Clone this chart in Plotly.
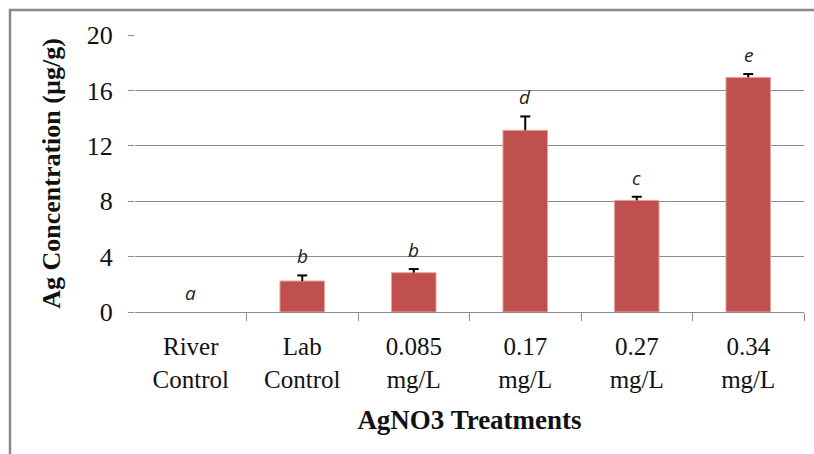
import plotly.graph_objects as go

# Treatment groups and measured silver concentration (mean and upper error)
categories = ["River<br>Control", "Lab<br>Control", "0.085<br>mg/L",
              "0.17<br>mg/L", "0.27<br>mg/L", "0.34<br>mg/L"]
ag_conc = [0.0, 2.24, 2.84, 13.12, 8.06, 16.94]
ag_err = [0.0, 0.40, 0.26, 1.00, 0.26, 0.24]
group_letters = ["a", "b", "b", "d", "c", "e"]
y_ticks = [0, 4, 8, 12, 16, 20]

W, H = 814, 454
ML, MR, MT, MB = 135, 10, 35, 142
PW, PH = W - ML - MR, H - MT - MB

SERIF = "Liberation Serif"
GRID = "#8c8c8c"
n = len(categories)

fig = go.Figure()
fig.add_trace(go.Bar(
    x=list(range(n)),
    y=ag_conc,
    marker=dict(color="#C0504D",
                line=dict(color="#E4A6A4",
                          width=[1 if v > 0 else 0 for v in ag_conc])),
    showlegend=False,
))

# Upper-only error bars: a stem from the bar top plus a cap
cap = 5 / (PW / n)
ex, ey = [], []
for i, (v, e) in enumerate(zip(ag_conc, ag_err)):
    if e <= 0:
        continue
    ex += [i, i, None, i - cap, i + cap, None]
    ey += [v, v + e, None, v + e, v + e, None]
fig.add_trace(go.Scatter(x=ex, y=ey, mode="lines",
                         line=dict(color="black", width=2),
                         showlegend=False, hoverinfo="skip"))

# Significance letters above each bar
for i, (v, e, t) in enumerate(zip(ag_conc, ag_err, group_letters)):
    fig.add_annotation(x=i, y=v + e, text=t, showarrow=False,
                       yanchor="bottom", yshift=4,
                       font=dict(family="Open Sans", size=19,
                                 color="#222", style="italic"))

# Overlay axis used only for the tick marks on category boundaries
fig.add_trace(go.Scatter(x=[-0.5], y=[0], xaxis="x2", mode="markers",
                         marker=dict(opacity=0), showlegend=False,
                         hoverinfo="skip"))

# Outer frame around the chart
fig.add_shape(type="rect", xref="paper", yref="paper",
              x0=(10 - ML) / PW, x1=1 + (MR + 20) / PW,
              y0=-(MB + 20) / PH, y1=1 + (MT - 10) / PH,
              line=dict(color="#8a8a8a", width=2.5), layer="below")

fig.update_layout(
    width=W, height=H,
    margin=dict(l=ML, r=MR, t=MT, b=MB),
    paper_bgcolor="white", plot_bgcolor="white",
    font=dict(family=SERIF, color="#111"),
    bargap=0.6,
    xaxis=dict(
        range=[-0.5, n - 0.5],
        tickmode="array", tickvals=list(range(n)),
        ticktext=categories, ticks="", showgrid=False,
        showline=True, linecolor=GRID, linewidth=1,
        tickfont=dict(family=SERIF, size=25, color="#111"),
        ticklabelstandoff=12,
        title=dict(text="<b>AgNO3 Treatments</b>", standoff=18,
                   font=dict(family=SERIF, size=27, color="#111")),
        zeroline=False,
    ),
    xaxis2=dict(
        overlaying="x", range=[-0.5, n - 0.5],
        tickmode="array", tickvals=[k + 0.5 for k in range(n)],
        ticks="outside", ticklen=8, tickcolor=GRID, tickwidth=1,
        showticklabels=False, showgrid=False, showline=False,
        zeroline=False, side="bottom", anchor="y",
    ),
    yaxis=dict(
        range=[0, 20], tickvals=y_ticks,
        showgrid=True, gridcolor=GRID, gridwidth=1,
        ticks="outside", ticklen=6, tickcolor=GRID,
        showline=False, zeroline=False,
        tickfont=dict(family=SERIF, size=26, color="#111"),
        ticklabelstandoff=10,
        title=dict(text="<b>Ag Concentration (µg/g)</b>", standoff=18,
                   font=dict(family=SERIF, size=26, color="#111")),
    ),
)

fig.write_html("out.html")
